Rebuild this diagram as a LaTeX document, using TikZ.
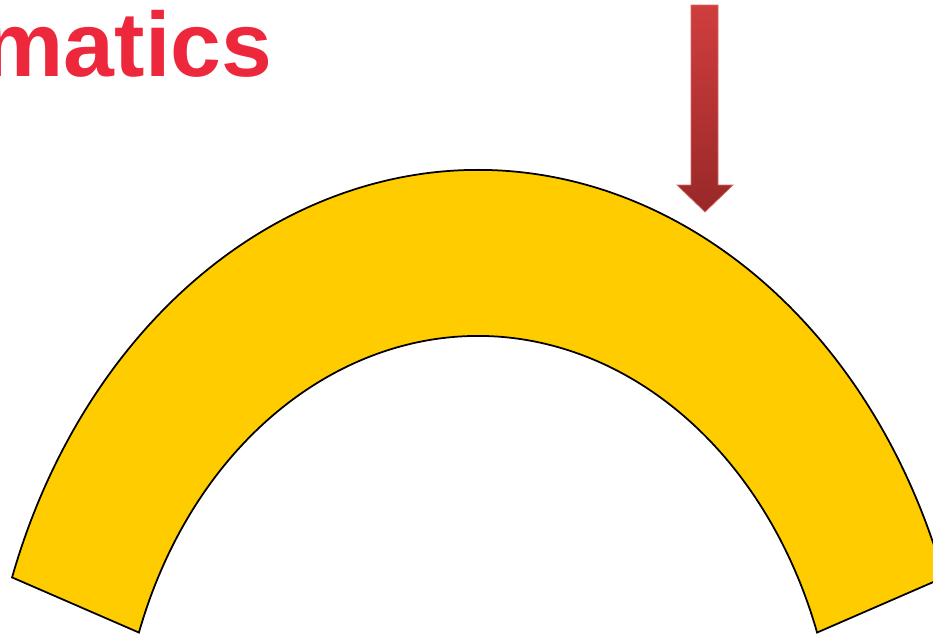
\documentclass[tikz,border=0pt]{standalone}
\usepackage{fontspec}
\setmainfont{Liberation Sans}
\usetikzlibrary{positioning, calc}
\definecolor{titlered}{RGB}{238,40,60}
\definecolor{archyellow}{RGB}{255,204,0}
\definecolor{arrowtop}{RGB}{208,62,62}
\definecolor{arrowbot}{RGB}{152,40,40}

\begin{document}
\begin{tikzpicture}[every node/.style={inner sep=0pt}]
	\useasboundingbox (0,0) rectangle (18.66,-12.72);
	\clip (0,0) rectangle (18.66,-12.72);
	
	% title, cut at the left edge
	\node[titlered, anchor=base east] (title) at (5.45,-1.52)
		{\fontsize{52}{58}\selectfont\bfseries ematics};
	
	% arch
	\coordinate (archc) at (9.56,-15.6);
	\draw[black, line width=1pt, fill=archyellow]
		($(archc)+(19.4:9.88 and 12.2)$) arc[start angle=19.4, end angle=160.6, x radius=9.88, y radius=12.2]
		-- ($(archc)+(160.6:7.19 and 8.88)$) arc[start angle=160.6, end angle=19.4, x radius=7.19, y radius=8.88]
		-- cycle;
	
	% load arrow
	\shade[top color=arrowtop, bottom color=arrowbot, draw=arrowtop!80!white, line width=0.4pt]
		(13.82,-0.1) -- (14.36,-0.1) -- (14.36,-3.7) -- (14.66,-3.7) -- (14.1,-4.24)
		-- (13.54,-3.7) -- (13.82,-3.7) -- cycle;
\end{tikzpicture}
\end{document}
